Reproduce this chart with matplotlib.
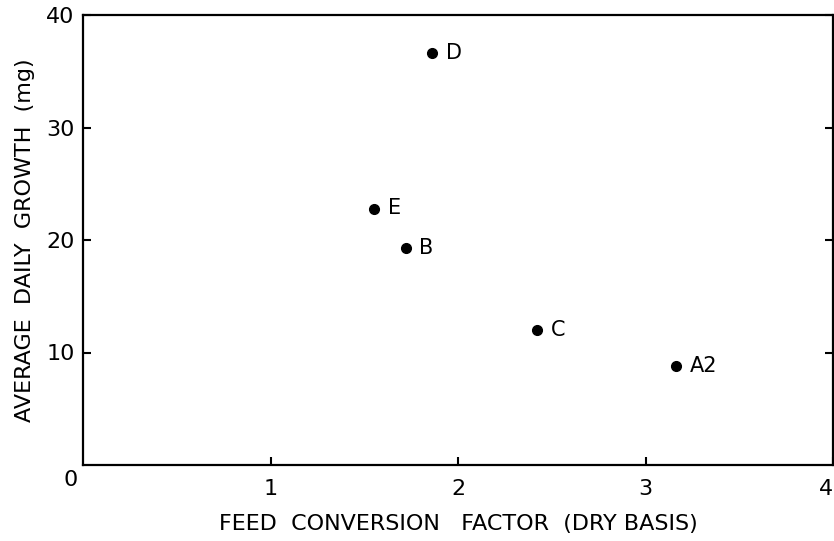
import matplotlib
matplotlib.use('Agg')
from matplotlib import pyplot as plt

# data
labels = ['D', 'E', 'B', 'C', 'A2']
fcf = [1.86, 1.55, 1.72, 2.42, 3.16]
growth = [36.6, 22.8, 19.3, 12.0, 8.8]

x_ticks = [1, 2, 3, 4]
y_ticks = [10, 20, 30, 40]

plt.rcParams['font.family'] = ['DejaVu Sans']

fig = plt.figure(figsize=(8.34, 5.41), dpi=100)
ax = fig.add_axes([83 / 834, 1 - 465 / 541, 750 / 834, 450 / 541])

ax.plot(fcf, growth, 'o', color='black', markersize=7)
for lab, x, y in zip(labels, fcf, growth):
    ax.annotate(lab, (x, y), xytext=(10, 0), textcoords='offset points',
                va='center', ha='left', fontsize=15)

ax.set_xlim(0, 4)
ax.set_ylim(0, 40)
ax.set_xticks(x_ticks)
ax.set_yticks(y_ticks)
ax.tick_params(direction='in', length=6, width=1.5, labelsize=16,
               right=True, top=False)
ax.tick_params(axis='y', pad=6)
ax.tick_params(axis='x', pad=10)
ax.get_xticklabels()[-1].set_horizontalalignment('right')
for s in ax.spines.values():
    s.set_linewidth(1.6)

# shared origin label
ax.text(-0.064, -1.35, '0', ha='center', va='center', fontsize=16,
        clip_on=False)

ax.set_xlabel('FEED  CONVERSION   FACTOR  (DRY BASIS)', fontsize=16,
              labelpad=11)
ax.set_ylabel('AVERAGE  DAILY  GROWTH  (mg)', fontsize=16, labelpad=8)

fig.savefig('out.png', dpi=100)
